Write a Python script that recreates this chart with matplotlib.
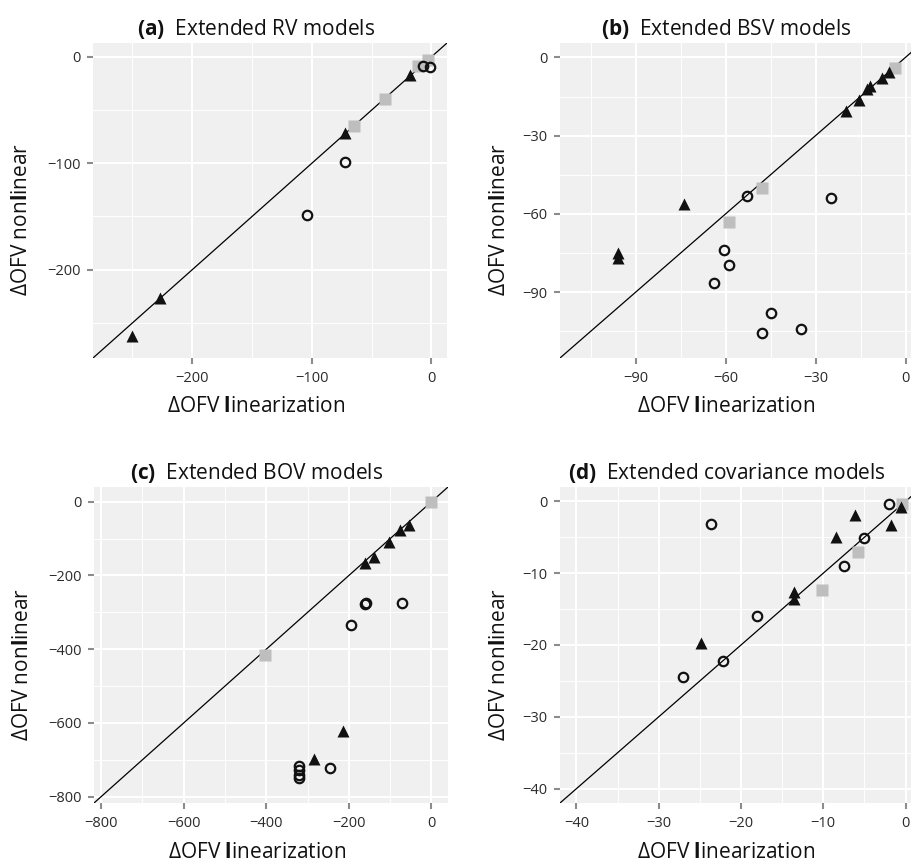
import matplotlib
matplotlib.use("Agg")
from matplotlib import pyplot as plt
from matplotlib.ticker import MultipleLocator

plt.rcParams['font.family'] = ['Open Sans', 'DejaVu Sans']
plt.rcParams['mathtext.fontset'] = 'custom'
plt.rcParams['mathtext.rm'] = 'Open Sans'
plt.rcParams['mathtext.bf'] = 'Open Sans:bold'

# (a) Extended RV models
a_tri_x = [-250, -227, -72, -18]
a_tri_y = [-262, -227, -72, -17]
a_circ_x = [-72, -104, -7, -1]
a_circ_y = [-99, -149, -8.5, -10]
a_sq_x = [-65, -39, -3, -11]
a_sq_y = [-65, -40, -3, -9]

# (b) Extended BSV models
b_tri_x = [-96, -96, -74, -20, -15.5, -13, -12, -8, -5.5]
b_tri_y = [-75, -77, -56, -20.5, -16.5, -12, -11, -8, -5.5]
b_circ_x = [-53, -25, -60.5, -59, -64, -45, -48, -35]
b_circ_y = [-53, -54, -74, -79.5, -86.5, -98, -105.5, -104]
b_sq_x = [-3.5, -48, -59]
b_sq_y = [-4, -50, -63]

# (c) Extended BOV models
c_tri_x = [-55, -77, -103, -140, -162, -213, -285]
c_tri_y = [-64, -76, -109, -150, -166, -622, -699]
c_circ_x = [-158, -160, -72, -196, -246, -320, -320, -320, -320]
c_circ_y = [-274, -276, -275, -335, -721, -716, -728, -740, -750]
c_sq_x = [0, -404]
c_sq_y = [0, -416]

# (d) Extended covariance models
d_tri_x = [-6.2, -8.4, -1.8, -0.6, -13.6, -13.6, -24.9]
d_tri_y = [-1.9, -5.0, -3.3, -0.8, -12.6, -13.6, -19.7]
d_circ_x = [-23.7, -2.0, -5.1, -7.5, -18.1, -22.2, -27.0]
d_circ_y = [-3.1, -0.4, -5.1, -9.0, -16.0, -22.2, -24.4]
d_sq_x = [-0.4, -5.8, -10.1]
d_sq_y = [-0.3, -7.0, -12.4]

W, H = 911, 863
fig = plt.figure(figsize=(W / 100, H / 100), dpi=100)


def add_panel(box, lims, step, letter, name, tri, circ, sq, ylab_x):
	left, top, right, bottom = box
	ax = fig.add_axes([left / W, 1 - bottom / H, (right - left) / W, (bottom - top) / H])
	ax.set_facecolor('#F0F0F0')
	for s in ax.spines.values():
		s.set_visible(False)

	ax.axline((0, 0), slope=1, color='black', lw=0.9, zorder=1)
	ax.plot(sq[0], sq[1], 's', ms=8, color='#BEBEBE', mec='none', zorder=2, clip_on=False)
	ax.plot(tri[0], tri[1], '^', ms=9, color='#111111', mec='none', zorder=3, clip_on=False)
	ax.plot(circ[0], circ[1], 'o', ms=6.8, mfc='none', mec='#111111', mew=1.6, zorder=4, clip_on=False)

	ax.set_xlim(lims)
	ax.set_ylim(lims)
	ax.xaxis.set_major_locator(MultipleLocator(step))
	ax.yaxis.set_major_locator(MultipleLocator(step))
	ax.xaxis.set_minor_locator(MultipleLocator(step / 2))
	ax.yaxis.set_minor_locator(MultipleLocator(step / 2))
	ax.grid(which='major', color='white', lw=1.5, zorder=0)
	ax.grid(which='minor', color='white', lw=0.7, zorder=0)
	ax.set_axisbelow(True)
	ax.tick_params(which='major', length=4, width=1.5, color='#8C8C8C',
				   labelsize=10.5, labelcolor='#2B2B2B', pad=5)
	ax.tick_params(which='minor', length=0)

	ax.set_xlabel(r"ΔOFV $\mathbf{l}$inearization", fontsize=15, color='#111111')
	ax.set_ylabel(r"ΔOFV non$\mathbf{l}$inear", fontsize=15, color='#111111')
	ax.xaxis.set_label_coords(0.46, -0.122)
	ax.yaxis.set_label_coords(ylab_x, 0.44)

	ax.text(0.46, 1 + 8 / (bottom - top), r"$\mathbf{(" + letter + r")}$  " + name,
			transform=ax.transAxes, ha='center', va='baseline', fontsize=15, color='#111111')
	return ax


add_panel((93, 43, 447, 358), (-283, 13), 100, 'a', 'Extended RV models',
		  (a_tri_x, a_tri_y), (a_circ_x, a_circ_y), (a_sq_x, a_sq_y), -0.172)
add_panel((560, 43, 922, 358), (-115.2, 5.5), 30, 'b', 'Extended BSV models',
		  (b_tri_x, b_tri_y), (b_circ_x, b_circ_y), (b_sq_x, b_sq_y), -0.138)
add_panel((94, 487, 448, 803), (-817, 40), 200, 'c', 'Extended BOV models',
		  (c_tri_x, c_tri_y), (c_circ_x, c_circ_y), (c_sq_x, c_sq_y), -0.172)
add_panel((560, 487, 922, 803), (-42, 2), 10, 'd', 'Extended covariance models',
		  (d_tri_x, d_tri_y), (d_circ_x, d_circ_y), (d_sq_x, d_sq_y), -0.138)

fig.savefig("out.png", dpi=100)
